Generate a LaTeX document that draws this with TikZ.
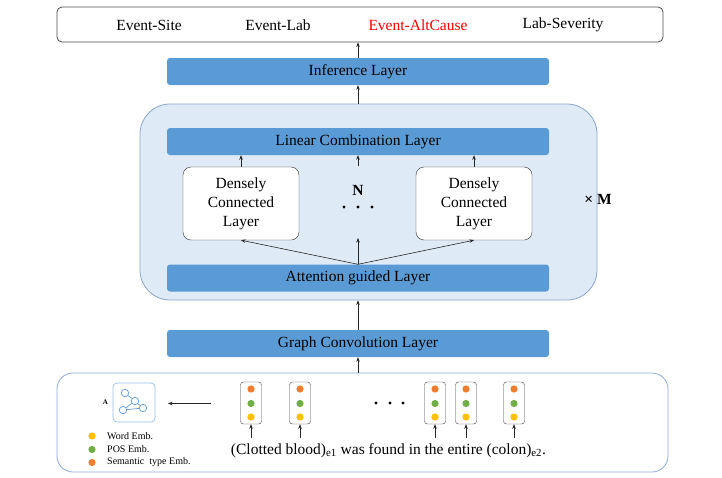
\documentclass[tikz,border=0pt]{standalone}
\usepackage{fontspec}
\setmainfont{Liberation Serif}
\usetikzlibrary{arrows.meta}
\definecolor{layerblue}{RGB}{91,155,213}
\definecolor{bigfill}{RGB}{222,235,247}
\definecolor{bigborder}{RGB}{140,165,200}
\definecolor{botborder}{RGB}{143,170,220}
\definecolor{iconborder}{RGB}{150,190,230}
\definecolor{dotorange}{RGB}{237,125,49}
\definecolor{dotgreen}{RGB}{112,173,71}
\definecolor{dotyellow}{RGB}{255,192,0}
\tikzset{
  maintext/.style={font=\fontsize{15.5}{19}\selectfont},
  layer/.style={maintext, fill=layerblue, rounded corners=3pt, minimum width=382pt, minimum height=27pt, inner sep=0pt},
  densebox/.style={maintext, draw=black!80, fill=white, rounded corners=8pt, minimum width=116pt, minimum height=73pt, inner sep=0pt, align=center},
  tokbox/.style={draw=black!75, rounded corners=3pt, minimum width=21pt, minimum height=42pt, inner sep=0pt},
  arr/.style={-{Stealth[length=4.5pt,width=3.5pt]}, line width=0.6pt, black!85},
  gnode/.style={circle, draw=layerblue, fill=white, line width=0.7pt, minimum size=7.5pt, inner sep=0pt},
  legtext/.style={font=\fontsize{10}{12}\selectfont, anchor=west, inner sep=0pt},
}
\begin{document}
\begin{tikzpicture}[x=1pt,y=-1pt]
\useasboundingbox (0,0) rectangle (722,477);
% top output box
\node[draw=black!70, line width=0.8pt, rounded corners=5pt, minimum width=606pt, minimum height=35pt] (top) at (360,24.5) {};
\node[maintext] (l1) at (149,25) {Event-Site};
\node[maintext] (l2) at (278,25) {Event-Lab};
\node[maintext, text=red] (l3) at (418,25) {Event-AltCause};
\node[maintext] (l4) at (563,25) {Lab-Severity};
% inference layer
\node[layer] (inf) at (358,71.5) {Inference Layer};
% big box
\node[draw=bigborder, fill=bigfill, line width=0.8pt, rounded corners=30pt, minimum width=457pt, minimum height=196pt] (big) at (368.5,202) {};
\node[layer] (lin) at (358,141.5) {Linear Combination Layer};
\node[densebox] (dl) at (241,203.5) {Densely\\Connected\\Layer};
\node[densebox] (dr) at (474,203.5) {Densely\\Connected\\Layer};
\node[layer] (att) at (358,278) {Attention guided Layer};
\node[font=\fontsize{15.5}{19}\selectfont\bfseries] (N) at (358,190) {N};
\foreach \x [count=\i] in {344,358,372} \fill (\x,207) circle (1.6pt);
\node[font=\fontsize{15.5}{19}\selectfont\bfseries] (M) at (598,199) {× M};
\coordinate (midtop) at (358,238);
\coordinate (midlo) at (358,166);
% arrows inside big box
\draw[arr] (dl.north) -- (dl.north |- lin.south);
\draw[arr] (dr.north) -- (dr.north |- lin.south);
\draw[arr] (midlo) -- (midlo |- lin.south);
\draw[arr] (att.north) -- (dl.south);
\draw[arr] (att.north) -- (dr.south);
\draw[arr] (att.north) -- (midtop);
% graph conv
\node[layer] (gc) at (358,343.5) {Graph Convolution Layer};
% bottom input box
\node[draw=botborder, line width=0.8pt, rounded corners=16pt, minimum width=611pt, minimum height=99pt] (bot) at (362.5,422.5) {};
% vertical arrows
\draw[arr] (inf.north) -- (inf.north |- top.south);
\draw[arr] (inf.south |- big.north) -- (inf.south);
\draw[arr] (gc.north) -- (gc.north |- big.south);
\draw[arr] (gc.south |- bot.north) -- (gc.south);
% graph icon
\node[draw=iconborder, line width=0.7pt, rounded corners=4pt, minimum width=42pt, minimum height=39pt] (icon) at (134,402.5) {};
\node[gnode] (g1) at (125,393) {};
\node[gnode] (g2) at (135,401) {};
\node[gnode] (g3) at (123,410) {};
\node[gnode] (g4) at (143,408) {};
\draw[layerblue, line width=0.7pt] (g1) -- (g2) (g2) -- (g3) (g3) -- (g4) (g2) -- (g4);
\node[font=\fontsize{7}{8}\selectfont\bfseries] (A) at (105.5,402) {A};
\coordinate (arrstart) at (211,403.5);
\coordinate (arrend) at (168,403.5);
\draw[arr] (arrstart) -- (arrend);
% legend
\fill[dotyellow] (92,436) circle (3.6pt);
\fill[dotgreen] (92,449.5) circle (3.6pt);
\fill[dotorange] (92,462.5) circle (3.6pt);
\node[legtext] (w) at (107,436) {Word Emb.};
\node[legtext] (p) at (107,449.5) {POS Emb.};
\node[legtext] (s) at (107,462.5) {Semantic\ \ type Emb.};
% tokens
\foreach \x [count=\i] in {251,300,435,466,514} {
  \node[tokbox] (t\i) at (\x,403) {};
  \fill[dotorange] (\x,389) circle (3.6pt);
  \fill[dotgreen] (\x,403.5) circle (3.6pt);
  \fill[dotyellow] (\x,417) circle (3.6pt);
  \coordinate (b\i) at (\x,437.5);
  \draw[arr] (b\i) -- (t\i.south);
}
\foreach \x in {376,390,403} \fill (\x,403) circle (1.6pt);
\node[maintext] (sent) at (388.5,450.5) {(Clotted blood)\textsubscript{e1} was found in the entire (colon)\textsubscript{e2}.};
\end{tikzpicture}
\end{document}
